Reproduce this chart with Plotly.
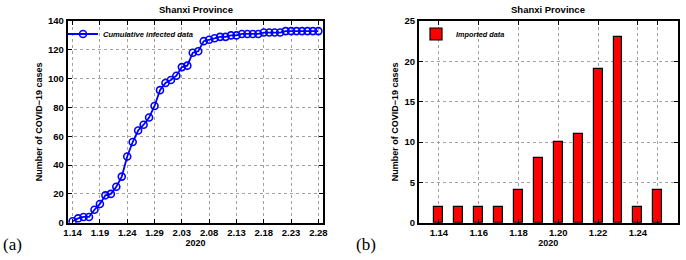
import plotly.graph_objects as go

# ---- data ----
cum_dates = ["1.14","1.15","1.16","1.17","1.18","1.19","1.20","1.21","1.22","1.23",
             "1.24","1.25","1.26","1.27","1.28","1.29","1.30","1.31","2.01","2.02",
             "2.03","2.04","2.05","2.06","2.07","2.08","2.09","2.10","2.11","2.12",
             "2.13","2.14","2.15","2.16","2.17","2.18","2.19","2.20","2.21","2.22",
             "2.23","2.24","2.25","2.26","2.27","2.28"]
cum_values = [1, 3, 4, 4, 9, 13, 19, 20, 25, 32,
              46, 56, 64, 68, 73, 81, 92, 97, 99, 102,
              108, 109, 118, 119, 126, 127, 128, 129, 129, 130,
              130, 131, 131, 131, 131, 132, 132, 132, 132, 133,
              133, 133, 133, 133, 133, 133]
cum_ticks = ["1.14","1.19","1.24","1.29","2.03","2.08","2.13","2.18","2.23","2.28"]

imp_dates = ["1.14","1.15","1.16","1.17","1.18","1.19","1.20","1.21","1.22","1.23","1.24","1.25"]
imp_values = [2, 2, 2, 2, 4, 8, 10, 11, 19, 23, 2, 4]
imp_tickvals = ["1.14","1.16","1.18","1.20","1.22","1.24","1.25"]
imp_ticktext = ["1.14","1.16","1.18","1.20","1.22","1.24",""]

W, H = 686, 260
FONT = "Liberation Sans, Arial, sans-serif"

fig = go.Figure()
fig.add_trace(go.Scatter(
    x=cum_dates, y=cum_values, mode="lines+markers",
    name="<b><i>Cumulative infected data</i></b>",
    line=dict(color="#0000ff", width=1.8),
    marker=dict(symbol="circle-open", size=7, color="#0000ff", line=dict(width=1.6, color="#0000ff")),
    xaxis="x", yaxis="y", legend="legend"))
fig.add_trace(go.Bar(
    x=imp_dates, y=imp_values, name="<b><i>Imported data</i></b>",
    marker=dict(color="#ff0000", line=dict(color="black", width=1.2)),
    width=0.45, xaxis="x2", yaxis="y2", legend="legend2"))

def px_x(p): return p / W
def px_y(p): return 1 - p / H

axcommon = dict(showline=True, mirror="ticks", linecolor="black", linewidth=2,
                ticks="inside", ticklen=4, tickcolor="black", tickwidth=1,
                showgrid=True, gridcolor="#a0a0a0", griddash="dot", gridwidth=1,
                zeroline=False, automargin=False,
                tickfont=dict(family=FONT, size=9.5, color="black", weight="bold"))

fig.update_layout(
    template="none",
    width=W, height=H, margin=dict(l=0, r=0, t=0, b=0, autoexpand=False),
    paper_bgcolor="white", plot_bgcolor="white",
    font=dict(family=FONT, color="black"),
    xaxis=dict(domain=[px_x(67.7), px_x(323.3)], type="category",
               range=[-0.9, len(cum_dates) - 1 + 0.9],
               tickvals=cum_ticks, ticktext=cum_ticks, anchor="y",
               title=dict(text="<b>2020</b>", font=dict(size=9), standoff=1), **axcommon),
    yaxis=dict(domain=[px_y(222.7), px_y(21)], range=[0, 140], dtick=20, anchor="x",
               title=dict(text="<b>Number of COVID\u221219 cases</b>", font=dict(size=9), standoff=4),
               **axcommon),
    xaxis2=dict(domain=[px_x(419), px_x(677.7)], type="category",
                range=[-1, len(imp_dates)],
                tickvals=imp_tickvals, ticktext=imp_ticktext, anchor="y2",
                title=dict(text="<b>2020</b>", font=dict(size=9), standoff=1), **axcommon),
    yaxis2=dict(domain=[px_y(222.7), px_y(21)], range=[0, 25], dtick=5, anchor="x2",
                title=dict(text="<b>Number of COVID\u221219 cases</b>", font=dict(size=9), standoff=4),
                **axcommon),
    legend=dict(x=px_x(63), y=px_y(19.5), xanchor="left", yanchor="top",
                bgcolor="rgba(0,0,0,0)", borderwidth=0, itemwidth=30,
                font=dict(family=FONT, size=7.6, color="black")),
    legend2=dict(x=px_x(416), y=px_y(19.5), xanchor="left", yanchor="top",
                 bgcolor="rgba(0,0,0,0)", borderwidth=0, itemwidth=30,
                 font=dict(family=FONT, size=7.3, color="black")),
    showlegend=True,
    bargap=0,
)

fig.add_annotation(text="<b>Shanxi Province</b>", x=px_x(195.5), y=px_y(10), xref="paper", yref="paper",
                   showarrow=False, font=dict(family=FONT, size=9.5, color="black"), xanchor="center", yanchor="middle")
fig.add_annotation(text="<b>Shanxi Province</b>", x=px_x(548.3), y=px_y(10), xref="paper", yref="paper",
                   showarrow=False, font=dict(family=FONT, size=9.5, color="black"), xanchor="center", yanchor="middle")
fig.add_annotation(text="(a)", x=px_x(1), y=px_y(244), xref="paper", yref="paper", showarrow=False,
                   font=dict(family="Liberation Serif, Times New Roman, serif", size=17, color="black"),
                   xanchor="left", yanchor="middle")
fig.add_annotation(text="(b)", x=px_x(354), y=px_y(244), xref="paper", yref="paper", showarrow=False,
                   font=dict(family="Liberation Serif, Times New Roman, serif", size=17, color="black"),
                   xanchor="left", yanchor="middle")

fig.write_html("out.html", config={"displayModeBar": False},
               post_script="document.body.style.margin='0';")
